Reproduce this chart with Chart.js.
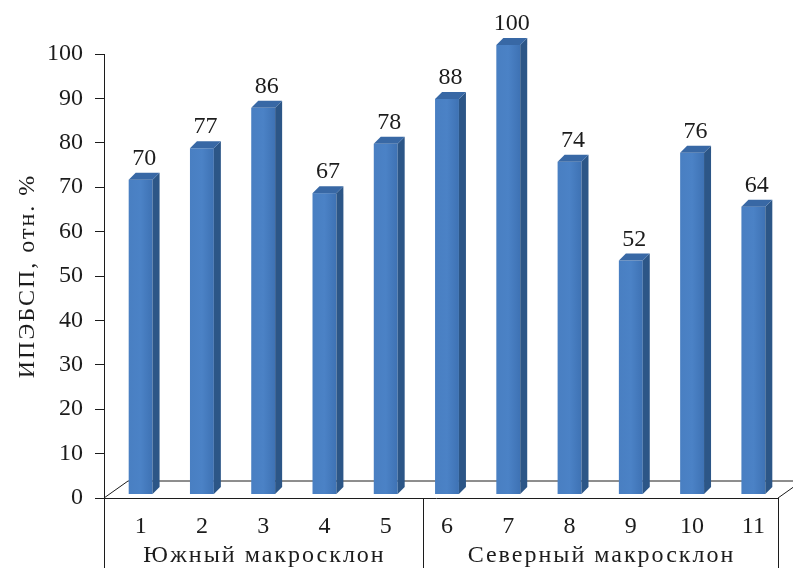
<!DOCTYPE html>
<html>
<head>
<meta charset="utf-8">
<script src="https://cdn.jsdelivr.net/npm/chart.js@4"></script>
<style>
  html, body { margin: 0; padding: 0; background: #fff; }
  #wrap { width: 793px; height: 568px; }
</style>
</head>
<body>
<div id="wrap"><canvas id="chart" width="793" height="568"></canvas></div>
<script>
const sites = ['1', '2', '3', '4', '5', '6', '7', '8', '9', '10', '11'];
const values = [70, 77, 86, 67, 78, 88, 100, 74, 52, 76, 64];
const groups = ['Южный макросклон', 'Северный макросклон'];
const yTicks = [0, 10, 20, 30, 40, 50, 60, 70, 80, 90, 100];
const yTitle = 'ИПЭБСП, отн. %';

const FONT = '"Liberation Serif", "DejaVu Serif", serif';
const INK = '#1c1c1c';
const DX = 6;      // 3d shift of the bars against the front plane
const DEPTH = 7;   // side/top depth of a bar

const threeD = {
  id: 'threeD',
  beforeDatasetsDraw(chart) {
    const { ctx, chartArea: a } = chart;
    const y0 = chart.scales.y.getPixelForValue(0);
    ctx.save();
    ctx.strokeStyle = INK;
    ctx.lineWidth = 1;
    // floor
    ctx.beginPath();
    ctx.moveTo(a.left, y0);
    ctx.lineTo(a.left + 24, y0 - 17);
    ctx.lineTo(chart.width + 5, y0 - 17);
    ctx.stroke();
    ctx.beginPath();
    ctx.moveTo(a.right, y0);
    ctx.lineTo(a.right + 24, y0 - 17);
    ctx.stroke();
    ctx.restore();
  },
  afterDatasetsDraw(chart) {
    const { ctx, chartArea: a } = chart;
    const meta = chart.getDatasetMeta(0);
    ctx.save();
    meta.data.forEach((el, i) => {
      const w = el.width;
      const x0 = el.x - w / 2 + DX, x1 = el.x + w / 2 + DX;
      const yt = el.y, yb = el.base;
      const g = ctx.createLinearGradient(x0, 0, x1, 0);
      g.addColorStop(0, '#497fc2');
      g.addColorStop(0.5, '#4b82c6');
      g.addColorStop(1, '#3e72b4');
      ctx.fillStyle = g;
      ctx.fillRect(x0, yt, w, yb - yt);
      // side
      ctx.fillStyle = '#2c5687';
      ctx.beginPath();
      ctx.moveTo(x1, yt);
      ctx.lineTo(x1 + DEPTH, yt - DEPTH);
      ctx.lineTo(x1 + DEPTH, yb - DEPTH);
      ctx.lineTo(x1, yb);
      ctx.closePath();
      ctx.fill();
      // top
      ctx.fillStyle = '#3868a5';
      ctx.beginPath();
      ctx.moveTo(x0, yt);
      ctx.lineTo(x1, yt);
      ctx.lineTo(x1 + DEPTH, yt - DEPTH);
      ctx.lineTo(x0 + DEPTH, yt - DEPTH);
      ctx.closePath();
      ctx.fill();
      // value label
      ctx.fillStyle = INK;
      ctx.font = '24px ' + FONT;
      ctx.textAlign = 'center';
      ctx.textBaseline = 'alphabetic';
      ctx.fillText(String(values[i]), (x0 + x1 + DEPTH) / 2, yt - DEPTH - 8);
    });

    // category axis: numbers, group labels, separators
    const y0 = chart.scales.y.getPixelForValue(0);
    ctx.strokeStyle = INK;
    ctx.lineWidth = 1;
    ctx.beginPath();
    ctx.moveTo(a.left - 9, y0 + 0.5);
    ctx.lineTo(a.right, y0 + 0.5);
    ctx.stroke();
    ctx.font = '24px ' + FONT;
    ctx.fillStyle = INK;
    ctx.textAlign = 'center';
    ctx.textBaseline = 'alphabetic';
    meta.data.forEach((el, i) => {
      ctx.fillText(sites[i], el.x + DX, y0 + 35);
    });
    const seps = [a.left, 423, a.right];
    seps.forEach(x => {
      ctx.beginPath();
      ctx.moveTo(Math.round(x) + 0.5, x === a.left ? a.top : y0);
      ctx.lineTo(Math.round(x) + 0.5, chart.height);
      ctx.stroke();
    });
    ctx.letterSpacing = '2px';
    groups.forEach((g, k) => {
      ctx.fillText(g, (seps[k] + seps[k + 1]) / 2 + 1, y0 + 64);
    });
    // y title
    ctx.translate(34, (a.top + a.bottom) / 2 + 1);
    ctx.rotate(-Math.PI / 2);
    ctx.fillText(yTitle, 1, 0);
    ctx.restore();
  }
};

new Chart(document.getElementById('chart'), {
  type: 'bar',
  data: {
    labels: sites,
    datasets: [{
      data: values,
      yAxisID: 'yb',
      backgroundColor: 'rgba(0,0,0,0)',
      borderWidth: 0,
      categoryPercentage: 1,
      barPercentage: 0.39,
    }],
  },
  options: {
    responsive: false,
    animation: false,
    layout: { padding: { top: 54, right: 15, bottom: 70, left: 0 } },
    plugins: { legend: { display: false }, tooltip: { enabled: false } },
    scales: {
      x: { display: false, offset: true },
      y: {
        min: 0,
        max: 100,
        afterBuildTicks: s => { s.ticks = yTicks.map(v => ({ value: v })); },
        afterFit: s => { s.width = 104; },
        grid: { drawOnChartArea: false, tickLength: 9, color: INK },
        border: { display: true, color: INK },
        ticks: { padding: 12, color: INK, font: { family: FONT, size: 24 } },
      },
      yb: { display: false, min: -0.891, max: 97.995 },
    },
  },
  plugins: [threeD],
});
</script>
</body>
</html>
